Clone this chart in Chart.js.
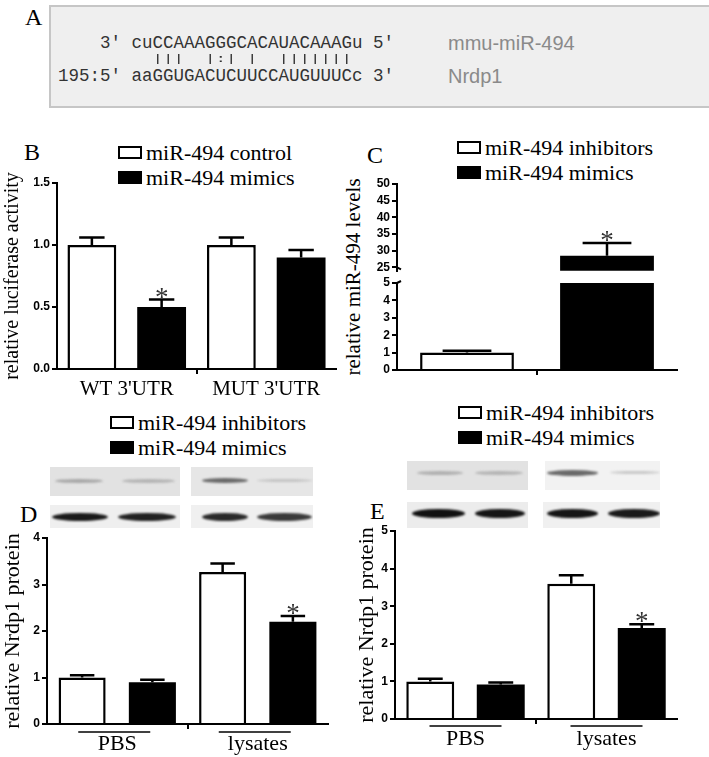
<!DOCTYPE html>
<html>
<head>
<meta charset="utf-8">
<script src="https://cdn.jsdelivr.net/npm/chart.js@4.4.0/dist/chart.umd.min.js"></script>
<style>
  body { margin: 0; width: 709px; height: 757px; position: relative; overflow: hidden; background: #fff; font-family: "Liberation Serif", serif; color: #000; }
  canvas { position: absolute; }
  .letter { position: absolute; font-size: 24px; line-height: 24px; }
  .legend { position: absolute; font-size: 22px; white-space: nowrap; }
  .legend .row { display: flex; align-items: center; height: 25px; }
  .legend .box { width: 20px; height: 9px; border: 2px solid #000; margin-right: 4px; }
  .seq { position: absolute; font-family: "Liberation Mono", monospace; font-size: 17.5px; line-height: 20px; white-space: pre; color: #333; }
  .pairs { transform: scaleY(0.6); transform-origin: 0 50%; }
  .name { position: absolute; font-family: "Liberation Sans", sans-serif; font-size: 20px; line-height: 22px; color: #8a8a8a; }
  .ytitle { position: absolute; font-size: 21px; white-space: nowrap; transform: translate(-50%, -50%) rotate(-90deg); }
  .blot { position: absolute; overflow: hidden; }
  .band { position: absolute; border-radius: 50%; filter: blur(1.2px); }
</style>
</head>
<body>

<div style="position:absolute; left:49px; top:5px; width:700px; height:99px; background:#efefef; border:2px solid #c6c6c6;"></div>
<div class="letter" style="left:25px; top:5px;">A</div>
<div class="seq" id="seq1" style="left:58px; top:33px;"></div>
<div class="seq pairs" id="seq2" style="left:58px; top:49px;"></div>
<div class="seq" id="seq3" style="left:58px; top:66px;"></div>
<div class="name" id="name1" style="left:448px; top:32px;"></div>
<div class="name" id="name2" style="left:448px; top:65px;"></div>

<div class="letter" style="left:24px; top:140px;">B</div>
<div class="letter" style="left:367px; top:143px;">C</div>
<div class="letter" style="left:20px; top:502px;">D</div>
<div class="letter" style="left:370px; top:499px;">E</div>

<div class="legend" id="legB" style="left:118px; top:140px;"></div>
<div class="legend" id="legC" style="left:457px; top:135px;"></div>
<div class="legend" id="legD" style="left:110px; top:410px;"></div>
<div class="legend" id="legE" style="left:458px; top:400px;"></div>

<div class="ytitle" id="titleC" style="left:353px; top:277px;"></div>

<canvas id="chartB" width="345" height="239" style="left:0px; top:170px;"></canvas>
<canvas id="chartCHigh" width="345" height="110" style="left:340px; top:170px;"></canvas>
<canvas id="chartCLow" width="345" height="110" style="left:340px; top:270px;"></canvas>
<canvas id="chartD" width="335" height="232" style="left:0px; top:525px;"></canvas>
<canvas id="chartE" width="337" height="239" style="left:348px; top:518px;"></canvas>

<script>
// panel A: seed pairing
const mirLine = "    3' cuCCAAAGGGCACAUACAAAGu 5'";
const pairLine = "         |||  |:| |  |||||||";
const targetLine = "195:5' aaGGUGACUCUUCCAUGUUUCc 3'";
const mirName = "mmu-miR-494";
const targetName = "Nrdp1";

// panel B: luciferase
const groupsB = ["WT 3'UTR", "MUT 3'UTR"];
const seriesB = ["miR-494 control", "miR-494 mimics"];
const controlB = [1.0, 1.0];
const controlErrB = [0.06, 0.06];
const mimicsB = [0.5, 0.9];
const mimicsErrB = [0.06, 0.06];
const mimicsStarB = [true, false];

// panel C: miR-494 levels (broken axis)
const seriesC = ["miR-494 inhibitors", "miR-494 mimics"];
const valuesC = [1.0, 28.5];
const errC = [0.1, 3.8];
const starC = [false, true];
const lowTicksC = [0, 1, 2, 3, 4, 5];
const highTicksC = [25, 30, 35, 40, 45, 50];

// panels D and E: Nrdp1 protein
const groupsDE = ["PBS", "lysates"];
const seriesDE = ["miR-494 inhibitors", "miR-494 mimics"];
const inhibD = [1.0, 3.27];
const inhibErrD = [0.05, 0.18];
const mimicsD = [0.9, 2.2];
const mimicsErrD = [0.05, 0.12];
const mimicsStarD = [false, true];
const inhibE = [1.0, 3.6];
const inhibErrE = [0.07, 0.22];
const mimicsE = [0.92, 2.42];
const mimicsErrE = [0.05, 0.1];
const mimicsStarE = [false, true];

const serif = "Liberation Serif";
const sans = "Liberation Sans";

document.getElementById('seq1').textContent = mirLine;
document.getElementById('seq2').textContent = pairLine;
document.getElementById('seq3').textContent = targetLine;
document.getElementById('name1').textContent = mirName;
document.getElementById('name2').textContent = targetName;
document.getElementById('titleC').textContent = 'relative miR-494 levels';

function legend(id, names) {
  const el = document.getElementById(id);
  names.forEach((n, i) => {
    const row = document.createElement('div');
    row.className = 'row';
    const box = document.createElement('span');
    box.className = 'box';
    box.style.background = i === 0 ? '#fff' : '#000';
    row.appendChild(box);
    row.appendChild(document.createTextNode(n));
    el.appendChild(row);
  });
}
legend('legB', seriesB);
legend('legC', seriesC);
legend('legD', seriesDE);
legend('legE', seriesDE);

// western blot strips (pictures, not data)
const blots = [
  { x: 50, y: 467, w: 130, h: 29, bg: '#e2e2e2', bands: [[5, 12, 48, 4, '#a8a8a8'], [72, 12, 53, 4, '#b4b4b4']] },
  { x: 191, y: 467, w: 122, h: 29, bg: '#e6e6e6', bands: [[11, 11, 46, 5, '#6a6a6a'], [66, 12, 55, 3, '#c4c4c4']] },
  { x: 50, y: 505, w: 130, h: 23, bg: '#efefef', bands: [[2, 8, 56, 8, '#1a1a1a'], [68, 8, 58, 8, '#222']] },
  { x: 191, y: 505, w: 122, h: 23, bg: '#f0f0f0', bands: [[11, 8, 46, 8, '#2a2a2a'], [66, 8, 55, 8, '#3a3a3a']] },
  { x: 407, y: 461, w: 121, h: 29, bg: '#e2e2e2', bands: [[10, 10, 46, 4, '#b0b0b0'], [68, 10, 48, 4, '#b4b4b4']] },
  { x: 545, y: 461, w: 115, h: 29, bg: '#f2f2f2', bands: [[2, 9, 51, 6, '#6a6a6a'], [65, 10, 50, 3, '#c8c8c8']] },
  { x: 407, y: 502, w: 121, h: 26, bg: '#ececec', bands: [[5, 7, 53, 9, '#111'], [68, 7, 50, 9, '#151515']] },
  { x: 543, y: 502, w: 117, h: 26, bg: '#f0f0f0', bands: [[4, 7, 51, 9, '#151515'], [65, 7, 52, 9, '#1a1a1a']] }
];
blots.forEach(b => {
  const box = document.createElement('div');
  box.className = 'blot';
  Object.assign(box.style, { left: b.x + 'px', top: b.y + 'px', width: b.w + 'px', height: b.h + 'px', background: b.bg });
  b.bands.forEach(([bx, by, bw, bh, c]) => {
    const band = document.createElement('div');
    band.className = 'band';
    Object.assign(band.style, { left: bx + 'px', top: by + 'px', width: bw + 'px', height: bh + 'px', background: c });
    box.appendChild(band);
  });
  document.body.appendChild(box);
});

// error bars and asterisks on top of each bar
const errorBars = {
  id: 'errorBars',
  afterDatasetsDraw(chart) {
    const ctx = chart.ctx;
    chart.data.datasets.forEach((ds, di) => {
      if (!ds.errors) return;
      const meta = chart.getDatasetMeta(di);
      const y = chart.scales[meta.yAxisID];
      meta.data.forEach((bar, i) => {
        const v = ds.data[i];
        if (v == null || v < y.min || v > y.max) return;
        const top = y.getPixelForValue(v + ds.errors[i]);
        const half = bar.width * 0.26;
        ctx.save();
        ctx.strokeStyle = '#000';
        ctx.lineWidth = 2.5;
        ctx.beginPath();
        ctx.moveTo(bar.x, bar.y);
        ctx.lineTo(bar.x, top);
        ctx.moveTo(bar.x - half, top);
        ctx.lineTo(bar.x + half, top);
        ctx.stroke();
        if (ds.stars && ds.stars[i]) {
          ctx.fillStyle = '#333';
          ctx.font = '27px "' + serif + '"';
          ctx.textAlign = 'center';
          ctx.textBaseline = 'alphabetic';
          ctx.fillText('*', bar.x, top + 6);
        }
        ctx.restore();
      });
    });
  }
};

// short rule above each group label (PBS / lysates)
const groupLines = {
  id: 'groupLines',
  afterDraw(chart, args, opts) {
    if (!opts.halfWidth) return;
    const x = chart.scales.x;
    const ctx = chart.ctx;
    ctx.save();
    ctx.strokeStyle = '#000';
    ctx.lineWidth = 1.5;
    chart.data.labels.forEach((l, i) => {
      const cx = x.getPixelForValue(i) + (opts.shift || 0);
      ctx.beginPath();
      ctx.moveTo(cx - opts.halfWidth, x.top + opts.offset);
      ctx.lineTo(cx + opts.halfWidth, x.top + opts.offset);
      ctx.stroke();
    });
    ctx.restore();
  }
};

// little stub to the right of the axis where the y axis is broken
const axisBreak = {
  id: 'axisBreak',
  afterDraw(chart, args, opts) {
    if (opts.at == null) return;
    const y = chart.scales.y;
    const py = y.getPixelForValue(opts.at);
    const ctx = chart.ctx;
    ctx.save();
    ctx.strokeStyle = '#000';
    ctx.lineWidth = 2;
    ctx.beginPath();
    ctx.moveTo(y.right, py);
    ctx.lineTo(y.right + 4, py + opts.dir * 2);
    ctx.stroke();
    ctx.restore();
  }
};

function barSet(label, values, errs, stars, filled, pct) {
  return {
    label: label,
    data: values,
    errors: errs,
    stars: stars,
    backgroundColor: filled ? '#000' : '#fff',
    borderColor: '#000',
    borderWidth: filled ? 0 : 2.5,
    borderSkipped: 'start',
    categoryPercentage: 1.0,
    barPercentage: pct
  };
}

function options(o) {
  return {
    responsive: false,
    animation: false,
    devicePixelRatio: 1,
    layout: { padding: o.pad },
    plugins: {
      legend: { display: false },
      tooltip: { enabled: false },
      groupLines: o.lines || {},
      axisBreak: o.brk || {}
    },
    scales: {
      x: {
        display: o.xDisplay !== false,
        offset: true,
        grid: {
          drawOnChartArea: false, drawTicks: true, tickLength: 5, offset: true, lineWidth: 2,
          color: c => c.index === 1 ? '#000' : 'rgba(0,0,0,0)'
        },
        border: { display: true, color: '#000', width: 2 },
        ticks: { display: o.xLabels !== false, color: '#000', font: { family: serif, size: o.labelSize || 21 }, padding: o.xPad || 3, maxRotation: 0, autoSkip: false },
        afterFit: s => { s.height = o.xHeight; }
      },
      y: {
        min: o.min,
        max: o.max,
        grid: { drawOnChartArea: false, tickLength: 5, lineWidth: 2, color: '#000' },
        border: { display: true, color: '#000', width: 2 },
        ticks: { stepSize: o.step, color: '#000', font: { family: sans, size: 12, weight: 'bold' }, padding: 2, callback: o.fmt || (v => v) },
        afterBuildTicks: o.tickList ? (s => { s.ticks = o.tickList.map(v => ({ value: v })); }) : undefined,
        title: o.title ? { display: true, text: o.title, color: '#000', font: { family: serif, size: o.titleSize }, padding: { top: o.titlePad, bottom: 0 } } : { display: false },
        afterFit: s => { s.width = o.yWidth; }
      }
    }
  };
}

new Chart(document.getElementById('chartB'), {
  type: 'bar',
  data: {
    labels: groupsB,
    datasets: [
      barSet(seriesB[0], controlB, controlErrB, null, false, 0.7),
      barSet(seriesB[1], mimicsB, mimicsErrB, mimicsStarB, true, 0.7)
    ]
  },
  options: options({ pad: { top: 13, right: 9, left: 0, bottom: 0 }, min: 0, max: 1.5, step: 0.5, yWidth: 57, xHeight: 40,
    fmt: v => v.toFixed(1), title: 'relative luciferase activity', titleSize: 20, titlePad: 1, labelSize: 21 }),
  plugins: [errorBars]
});

function datasetsC() {
  return seriesC.map((s, i) => Object.assign(
    barSet(s, valuesC.map((v, j) => j === i ? v : null), errC, starC, i === 1, 0.67),
    { grouped: false, clip: 0 }
  ));
}

new Chart(document.getElementById('chartCHigh'), {
  type: 'bar',
  data: { labels: seriesC, datasets: datasetsC() },
  options: options({ pad: { top: 14, right: 8, left: 0, bottom: 7 }, min: 24, max: 50, yWidth: 57, xHeight: 0,
    xDisplay: false, tickList: highTicksC, brk: { at: highTicksC[0], dir: 1 } }),
  plugins: [errorBars, axisBreak]
});

new Chart(document.getElementById('chartCLow'), {
  type: 'bar',
  data: { labels: seriesC, datasets: datasetsC() },
  options: options({ pad: { top: 13, right: 8, left: 0, bottom: 0 }, min: 0, max: 5, yWidth: 57, xHeight: 10,
    xLabels: false, tickList: lowTicksC, brk: { at: lowTicksC[lowTicksC.length - 1], dir: -1 } }),
  plugins: [errorBars, axisBreak]
});

new Chart(document.getElementById('chartD'), {
  type: 'bar',
  data: {
    labels: groupsDE,
    datasets: [
      barSet(seriesDE[0], inhibD, inhibErrD, null, false, 0.67),
      barSet(seriesDE[1], mimicsD, mimicsErrD, mimicsStarD, true, 0.67)
    ]
  },
  options: options({ pad: { top: 13, right: 7, left: 0, bottom: 0 }, min: 0, max: 4, step: 1, yWidth: 47, xHeight: 33,
    title: 'relative Nrdp1 protein', titleSize: 22, titlePad: 0, labelSize: 22, xPad: 2,
    lines: { halfWidth: 36, offset: 8, shift: -3 } }),
  plugins: [errorBars, groupLines]
});

new Chart(document.getElementById('chartE'), {
  type: 'bar',
  data: {
    labels: groupsDE,
    datasets: [
      barSet(seriesDE[0], inhibE, inhibErrE, null, false, 0.68),
      barSet(seriesDE[1], mimicsE, mimicsErrE, mimicsStarE, true, 0.68)
    ]
  },
  options: options({ pad: { top: 13, right: 8, left: 0, bottom: 0 }, min: 0, max: 5, step: 1, yWidth: 47, xHeight: 38,
    title: 'relative Nrdp1 protein', titleSize: 22, titlePad: 5.8, labelSize: 22, xPad: 2,
    lines: { halfWidth: 36, offset: 7, shift: 0 } }),
  plugins: [errorBars, groupLines]
});
</script>
</body>
</html>
